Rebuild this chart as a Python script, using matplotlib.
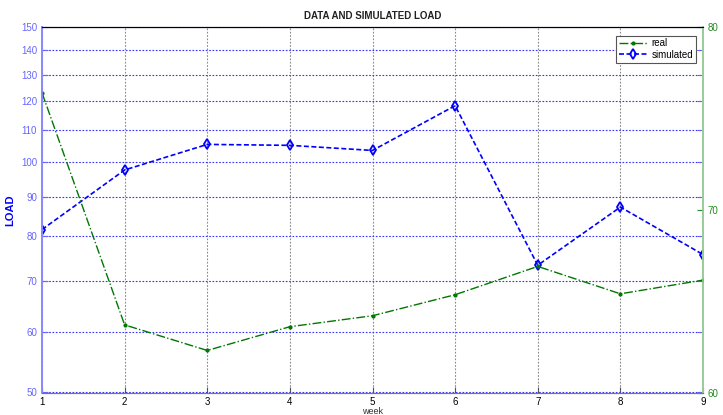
import matplotlib
matplotlib.use("Agg")
import matplotlib.pyplot as plt
from matplotlib.ticker import FixedLocator, NullLocator

plt.rcParams['font.family'] = ['Liberation Sans Narrow', 'Liberation Sans', 'DejaVu Sans']

# data
weeks = [1, 2, 3, 4, 5, 6, 7, 8, 9]
real = [76.4, 63.7, 62.3, 63.6, 64.2, 65.35, 66.9, 65.4, 66.15]        # right axis
simulated = [81.6, 97.6, 105.4, 105.1, 103.5, 118.4, 73.3, 87.3, 75.7]  # left axis (log)
left_ticks = [50, 60, 70, 80, 90, 100, 110, 120, 130, 140, 150]
right_ticks = [60, 70, 80]

fig = plt.figure(figsize=(7.23, 4.15), dpi=100)
ax = fig.add_axes([42 / 723, 1 - 392.5 / 415, 661 / 723, 365.5 / 415])
ax2 = ax.twinx()

# left axis - simulated, log scale
ax.set_yscale('log')
ax.set_ylim(50, 150)
ax.set_xlim(1, 9)
ax.yaxis.set_major_locator(FixedLocator(left_ticks))
ax.yaxis.set_minor_locator(NullLocator())
ax.set_yticklabels([str(t) for t in left_ticks])
ax.set_xticks(weeks)
ax.tick_params(axis='y', colors='#6666ff', labelsize=7, length=4, direction='in', right=True)
ax.tick_params(axis='x', colors='#555555', labelsize=7, length=4, direction='in', pad=3)
for t in ax.get_xticklabels():
    t.set_color('black')

ax.yaxis.grid(True, color='#3333ff', linestyle=(0, (1.5, 1.5)), linewidth=0.8)
ax.xaxis.grid(True, color='#888888', linestyle=(0, (1.5, 1.5)), linewidth=0.8)

l2, = ax.plot(weeks, simulated, color='#0000ff', linestyle=(0, (3, 1.5)), linewidth=1.2,
              marker='d', markersize=5, markerfacecolor='none', markeredgewidth=1.3,
              label='simulated')

# right axis - real
ax2.set_ylim(60, 80)
ax2.set_yticks(right_ticks)
ax2.tick_params(axis='y', colors='#228b22', labelsize=7, length=4, direction='in')
l1, = ax2.plot(weeks, real, color='#007700', linestyle='-.', linewidth=1.0,
               marker='.', markersize=4, label='real')

for a in (ax, ax2):
    a.spines['top'].set_color('black')
    a.spines['bottom'].set_color('#777777')
    a.spines['left'].set_color('#8888ff')
    a.spines['right'].set_color('#99cc99')
    a.spines['left'].set_linewidth(1.2)
    a.spines['right'].set_linewidth(1.2)

ax.set_title('DATA AND SIMULATED LOAD', fontsize=7, fontweight='bold', color='#222222', pad=6)
ax.set_ylabel('LOAD', color='#0000ff', fontsize=8, fontweight='bold')
ax.yaxis.set_label_coords(-0.04, 0.5)
fig.text(0.5 * (42 + 703) / 723, 1 - 411 / 415, 'week', ha='center', va='center',
         fontsize=6.5, color='#333333')

leg = ax2.legend([l1, l2], ['real', 'simulated'], loc='upper right', fontsize=7,
                 fancybox=False, framealpha=1, edgecolor='#555555',
                 borderpad=0.3, handlelength=3, handletextpad=0.4, labelspacing=0.15,
                 bbox_to_anchor=(0.997, 0.99))
leg.get_frame().set_linewidth(0.8)

fig.savefig('out.png', dpi=100)
